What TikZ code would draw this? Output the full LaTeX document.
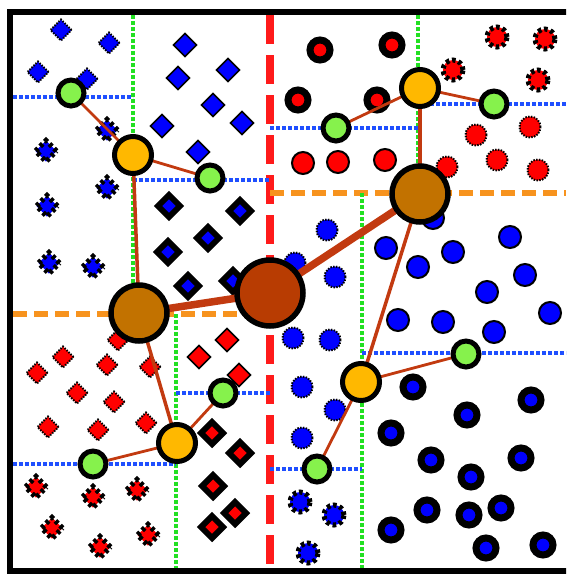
\documentclass[tikz,border=0pt]{standalone}
\usepackage{tikz}
\usetikzlibrary{shapes.geometric}
\definecolor{rootcol}{HTML}{B83C02}
\definecolor{midcol}{HTML}{C27200}
\definecolor{goldcol}{HTML}{FFB800}
\definecolor{limecol}{HTML}{86F24C}
\definecolor{edgecol}{HTML}{C23A10}
\definecolor{splitred}{HTML}{FF1A1A}
\definecolor{splitora}{HTML}{F7931E}
\definecolor{splitgrn}{HTML}{22E022}
\definecolor{splitblu}{HTML}{1F4FFF}
\pgfdeclarelayer{top}
\pgfsetlayers{main,top}
\tikzset{
  pt/.style={inner sep=0pt, outer sep=0pt, draw=black},
  dotdia/.style={pt, diamond, aspect=1, fill=#1, minimum size=21pt,
    line width=2pt, dash pattern=on 1.5pt off 1.3pt},
  stardia/.style={pt, diamond, aspect=1, fill=#1, minimum size=21pt,
    line width=5pt, dash pattern=on 3.5pt off 3pt},
  plaindia/.style={pt, diamond, aspect=1, fill=#1, minimum size=23pt,
    line width=1.6pt},
  thickdia/.style={pt, diamond, aspect=1, fill=#1, minimum size=22pt,
    line width=6pt},
  dotcirc/.style={pt, circle, fill=#1, minimum size=21pt,
    line width=2pt, dash pattern=on 1.5pt off 1.3pt},
  starcirc/.style={pt, circle, fill=#1, minimum size=20pt,
    line width=5pt, dash pattern=on 3.5pt off 3pt},
  plaincirc/.style={pt, circle, fill=#1, minimum size=22pt,
    line width=2pt},
  thickcirc/.style={pt, circle, fill=#1, minimum size=20pt,
    line width=7pt},
  treenode/.style={pt, circle, line width=5pt},
  lvl0/.style={treenode, fill=rootcol, minimum size=66pt, line width=5.5pt},
  lvl1/.style={treenode, fill=midcol, minimum size=56pt, line width=5.5pt},
  lvl2/.style={treenode, fill=goldcol, minimum size=37pt},
  lvl3/.style={treenode, fill=limecol, minimum size=26pt},
  edge0/.style={draw=edgecol, line width=7.5pt},
  edge1/.style={draw=edgecol, line width=3.5pt},
  edge2/.style={draw=edgecol, line width=2.8pt},
  redsplit/.style={draw=splitred, line width=8pt, dash pattern=on 29pt off 11pt},
  orasplit/.style={draw=splitora, line width=6pt, dash pattern=on 14pt off 7pt},
  grnsplit/.style={draw=splitgrn, line width=3.2pt, dash pattern=on 3.5pt off 2.5pt},
  blusplit/.style={draw=splitblu, line width=3.2pt, dash pattern=on 3.5pt off 2.5pt}
}

\begin{document}
\begin{tikzpicture}[x=1pt,y=-1pt]
\useasboundingbox (0,0) rectangle (566,574);
\clip (0,0) rectangle (566,574);

% split lines
\draw[redsplit] (270,15) -- (270,568);
\draw[orasplit] (13,314) -- (270,314);
\draw[orasplit] (270,193) -- (566,193);
\foreach \x/\ya/\yb in {133/15/314, 176/314/568, 418/15/193, 362/193/568}
  \draw[grnsplit] (\x,\ya) -- (\x,\yb);
\foreach \y/\xa/\xb in {97/13/133, 180/133/270, 128/270/418, 104/418/566,
                        464/13/176, 393/176/270, 469/270/362, 353/362/566}
  \draw[blusplit] (\xa,\y) -- (\xb,\y);

% top left: blue diamonds
\foreach \x/\y [count=\i] in {61/30, 109/43, 38/72, 87/79}
  \node[dotdia=blue] (a\i) at (\x,\y) {};
\foreach \x/\y [count=\i] in {107/130, 46/151, 107/188, 47/206, 49/263, 93/267}
  \node[stardia=blue] (b\i) at (\x,\y) {};
\foreach \x/\y [count=\i] in {185/45, 178/78, 228/70, 213/105, 242/123, 162/126, 198/152}
  \node[plaindia=blue] (c\i) at (\x,\y) {};
\foreach \x/\y [count=\i] in {169/206, 240/211, 208/238, 168/252, 188/286, 233/281}
  \node[thickdia=blue] (d\i) at (\x,\y) {};

% bottom left: red diamonds
\foreach \x/\y [count=\i] in {118/340, 37/373, 63/357, 77/393, 107/365, 114/402,
                              150/367, 48/427, 98/430, 146/423}
  \node[dotdia=red] (e\i) at (\x,\y) {};
\foreach \x/\y [count=\i] in {36/487, 93/497, 137/490, 52/528, 100/547, 148/535}
  \node[stardia=red] (f\i) at (\x,\y) {};
\foreach \x/\y [count=\i] in {199/357, 227/340, 239/375}
  \node[plaindia=red] (g\i) at (\x,\y) {};
\foreach \x/\y [count=\i] in {212/433, 240/453, 213/486, 235/513, 212/527}
  \node[thickdia=red] (h\i) at (\x,\y) {};

% top right: red circles
\foreach \x/\y [count=\i] in {320/50, 392/45, 298/100, 377/100}
  \node[thickcirc=red] (i\i) at (\x,\y) {};
\foreach \x/\y [count=\i] in {303/163, 338/162, 385/160}
  \node[plaincirc=red] (j\i) at (\x,\y) {};
\foreach \x/\y [count=\i] in {497/37, 545/39, 453/70, 538/80}
  \node[starcirc=red] (k\i) at (\x,\y) {};
\foreach \x/\y [count=\i] in {476/135, 530/127, 447/167, 497/160, 538/170}
  \node[dotcirc=red] (l\i) at (\x,\y) {};

% bottom right: blue circles
\foreach \x/\y [count=\i] in {327/230, 335/277, 295/263, 293/338, 330/340,
                              302/387, 335/410, 302/438}
  \node[dotcirc=blue] (m\i) at (\x,\y) {};
\foreach \x/\y [count=\i] in {300/502, 334/515, 308/553}
  \node[starcirc=blue] (n\i) at (\x,\y) {};
\foreach \x/\y [count=\i] in {433/218, 386/248, 418/267, 453/252, 510/237, 525/275,
                              487/292, 550/313, 398/320, 443/322, 494/332}
  \node[plaincirc=blue] (o\i) at (\x,\y) {};
\foreach \x/\y [count=\i] in {413/387, 531/400, 467/415, 391/433, 431/460, 521/458,
                              471/477, 427/510, 469/515, 501/508, 391/530, 486/548, 543/545}
  \node[thickcirc=blue] (p\i) at (\x,\y) {};

% tree
\begin{pgfonlayer}{top}
\node[lvl0] (root) at (270,293) {};
\node[lvl1] (left) at (139,313) {};
\node[lvl1] (right) at (420,194) {};
\node[lvl2] (lu) at (133,155) {};
\node[lvl2] (ld) at (177,443) {};
\node[lvl2] (ru) at (420,88) {};
\node[lvl2] (rd) at (361,382) {};
\node[lvl3] (luA) at (71,93) {};
\node[lvl3] (luB) at (210,178) {};
\node[lvl3] (ldA) at (93,464) {};
\node[lvl3] (ldB) at (223,393) {};
\node[lvl3] (ruA) at (336,128) {};
\node[lvl3] (ruB) at (494,104) {};
\node[lvl3] (rdA) at (317,469) {};
\node[lvl3] (rdB) at (466,354) {};
\end{pgfonlayer}

\draw[edge0] (root.center) -- (left.center);
\draw[edge0] (root.center) -- (right.center);
\foreach \a/\b in {left/lu, left/ld, right/ru, right/rd}
  \draw[edge1] (\a.center) -- (\b.center);
\foreach \a/\b in {lu/luA, lu/luB, ld/ldA, ld/ldB, ru/ruA, ru/ruB, rd/rdA, rd/rdB}
  \draw[edge2] (\a.center) -- (\b.center);

% frame
\draw[line width=6pt] (10,12) rectangle (570,571);
\end{tikzpicture}
\end{document}
